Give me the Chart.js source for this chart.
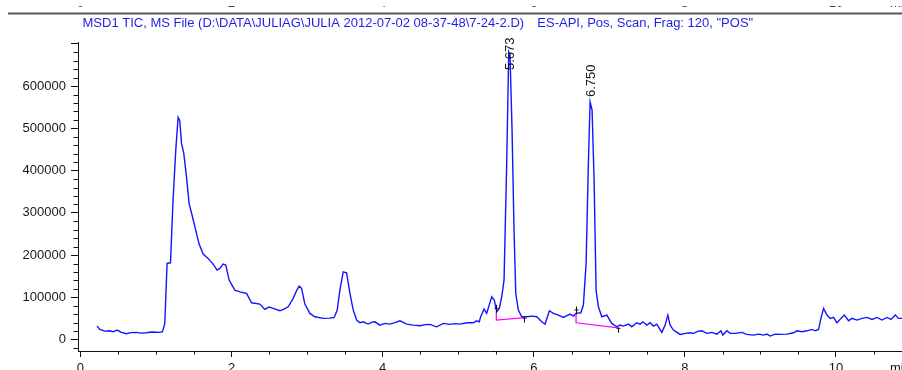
<!DOCTYPE html>
<html>
<head>
<meta charset="utf-8">
<script src="https://cdn.jsdelivr.net/npm/chart.js@4.4.1/dist/chart.umd.min.js"></script>
<style>
  html, body { margin: 0; padding: 0; background: #ffffff; }
  #wrap { position: relative; width: 902px; height: 370px; }
</style>
</head>
<body>
<div id="wrap"><canvas id="c" width="902" height="370"></canvas></div>
<script>
// ---------- data ----------
const titleLeft = 'MSD1 TIC, MS File (D:\\DATA\\JULIAG\\JULIA 2012-07-02 08-37-48\\7-24-2.D)';
const titleRight = 'ES-API, Pos, Scan, Frag: 120, "POS"';
const xTickValues = [0, 2, 4, 6, 8, 10];
const yTickValues = [0, 100000, 200000, 300000, 400000, 500000, 600000, 700000];
const xAxisUnit = 'min';

const retentionTime = [
  0.220, 0.256, 0.322, 0.388, 0.432, 0.485, 0.543, 0.609, 0.666, 0.742,
  0.799, 0.874, 0.944, 1.050, 1.086, 1.117, 1.147, 1.192, 1.226, 1.262,
  1.293, 1.315, 1.338, 1.368, 1.404, 1.438, 1.483, 1.536, 1.571, 1.624,
  1.690, 1.756, 1.809, 1.845, 1.889, 1.924, 1.968, 2.044, 2.110, 2.163,
  2.199, 2.265, 2.375, 2.441, 2.494, 2.551, 2.640, 2.693, 2.750, 2.816,
  2.865, 2.895, 2.927, 2.971, 3.037, 3.103, 3.213, 3.302, 3.359, 3.399,
  3.434, 3.478, 3.523, 3.567, 3.611, 3.656, 3.699, 3.743, 3.809, 3.858,
  3.898, 3.964, 4.030, 4.097, 4.163, 4.229, 4.318, 4.405, 4.494, 4.560,
  4.626, 4.715, 4.803, 4.891, 4.958, 5.024, 5.113, 5.200, 5.245, 5.279,
  5.298, 5.342, 5.377, 5.444, 5.478, 5.510, 5.544, 5.576, 5.607, 5.642,
  5.669, 5.686, 5.713, 5.739, 5.762, 5.796, 5.841, 5.907, 5.974, 6.040,
  6.106, 6.150, 6.207, 6.260, 6.326, 6.392, 6.481, 6.525, 6.560, 6.623,
  6.657, 6.693, 6.723, 6.746, 6.772, 6.799, 6.825, 6.856, 6.901, 6.967,
  7.033, 7.099, 7.143, 7.187, 7.253, 7.298, 7.364, 7.408, 7.444, 7.497,
  7.540, 7.584, 7.629, 7.695, 7.739, 7.775, 7.805, 7.849, 7.938, 8.004,
  8.070, 8.114, 8.180, 8.225, 8.291, 8.358, 8.424, 8.477, 8.503, 8.556,
  8.600, 8.666, 8.755, 8.821, 8.909, 8.975, 9.041, 9.086, 9.130, 9.196,
  9.262, 9.351, 9.438, 9.483, 9.550, 9.616, 9.682, 9.726, 9.770, 9.801,
  9.836, 9.881, 9.925, 9.968, 10.013, 10.066, 10.110, 10.167, 10.212, 10.278,
  10.344, 10.411, 10.477, 10.543, 10.609, 10.675, 10.728, 10.785, 10.829, 10.874
];
const ticSignal = [
  32000, 24000, 20000, 21000, 18500, 22500, 17000, 14000, 16600, 17000,
  15400, 16100, 17800, 17000, 18500, 38300, 180400, 181800, 330200, 448500,
  525900, 517900, 464400, 440700, 385300, 322400, 290700, 251400, 226000, 202400,
  192200, 178700, 164500, 168500, 178700, 176300, 140800, 117200, 113100, 110800,
  109400, 87100, 84000, 71500, 76900, 73900, 68200, 72200, 77600, 97500,
  117200, 126600, 121200, 84000, 62000, 54000, 50200, 50900, 52500, 69800,
  117200, 160500, 158100, 109400, 69800, 46200, 39800, 42100, 36700, 41400,
  42100, 34300, 38300, 36700, 40200, 44500, 36700, 34300, 32700, 35500,
  36000, 30300, 38300, 36000, 37900, 36700, 39800, 39800, 44500, 42100,
  54000, 72200, 62000, 101300, 93500, 65800, 73900, 101300, 140800, 417100,
  681200, 673400, 495900, 259200, 109400, 69800, 54000, 54000, 55600, 54000,
  42100, 36700, 68200, 62000, 58000, 52500, 60400, 55600, 62000, 63400,
  81700, 180400, 417100, 562900, 543200, 377500, 117200, 77600, 54000, 58000,
  38300, 30300, 34300, 32000, 36700, 30300, 39800, 36700, 42100, 34300,
  39800, 32000, 36700, 17000, 34300, 58000, 34300, 22500, 12300, 14700,
  16100, 14700, 20100, 20800, 14700, 17000, 13000, 20800, 10700, 20800,
  14700, 14700, 17000, 12300, 10700, 13000, 10700, 13000, 8300, 13000,
  12300, 13000, 16100, 20800, 18500, 20800, 24100, 20800, 24100, 50200,
  73900, 58000, 50200, 52500, 39800, 50200, 58000, 44500, 50200, 46200,
  50200, 52500, 47800, 52500, 46200, 52500, 47800, 58000, 50200, 50200
];

// integrated peaks
const peakTime = [5.673, 6.750];
const peakLabel = ['5.673', '6.750'];
const peakApex = [681200, 562900];
const baseStartTime = [5.505, 6.560];
const baseStartSignal = [65800, 62000];
const baseStartLevel = [46200, 39800];
const baseEndTime = [5.876, 7.121];
const baseEndLevel = [52100, 27900];

// ---------- chart ----------
const FONT = '"Liberation Sans", Arial, sans-serif';
const traceData = retentionTime.map((t, i) => ({ x: t, y: ticSignal[i] }));
const baselineSets = baseStartTime.map((t, i) => ({
  data: [
    { x: t, y: baseStartSignal[i] },
    { x: t, y: baseStartLevel[i] },
    { x: baseEndTime[i], y: baseEndLevel[i] }
  ],
  borderColor: 'rgb(255, 0, 255)',
  borderWidth: 1.3,
  pointRadius: 0,
  tension: 0,
  order: 0
}));

const decor = {
  id: 'decor',
  afterDatasetsDraw(chart) {
    const ctx = chart.ctx;
    const xs = chart.scales.x, ys = chart.scales.y;
    ctx.save();
    // integration event markers
    ctx.strokeStyle = '#111';
    ctx.lineWidth = 1;
    baseStartTime.forEach((t, i) => {
      const px = Math.round(xs.getPixelForValue(t)) + 0.5;
      const py = ys.getPixelForValue(baseStartSignal[i]);
      ctx.beginPath();
      ctx.moveTo(px, py + 1); ctx.lineTo(px, py - 7);
      ctx.moveTo(px - 2, py - 3.5); ctx.lineTo(px + 2, py - 3.5);
      ctx.stroke();
    });
    baseEndTime.forEach((t, i) => {
      const px = Math.round(xs.getPixelForValue(t)) + 0.5;
      const py = ys.getPixelForValue(baseEndLevel[i]);
      ctx.beginPath();
      ctx.moveTo(px, py); ctx.lineTo(px, py + 5);
      ctx.moveTo(px - 2, py + 0.5); ctx.lineTo(px + 2, py + 0.5);
      ctx.stroke();
    });
    // retention time labels (rotated)
    ctx.fillStyle = '#111';
    ctx.font = '13px ' + FONT;
    ctx.textAlign = 'left';
    ctx.textBaseline = 'alphabetic';
    peakTime.forEach((t, i) => {
      const px = xs.getPixelForValue(t);
      const py = Math.max(ys.getPixelForValue(peakApex[i]) - 4.7, 70);
      ctx.save();
      ctx.translate(px + 4.6, py);
      ctx.rotate(-Math.PI / 2);
      ctx.fillText(peakLabel[i], 0, 0);
      ctx.restore();
    });
    ctx.restore();
  },
  afterDraw(chart) {
    const ctx = chart.ctx;
    const xs = chart.scales.x, ys = chart.scales.y;
    const area = chart.chartArea;
    ctx.save();
    // minor ticks, y axis
    ctx.strokeStyle = '#111';
    ctx.lineWidth = 1;
    ctx.beginPath();
    for (let v = -20000; v <= 700000; v += 20000) {
      if (v % 100000 === 0) continue;
      const py = Math.round(ys.getPixelForValue(v)) + 0.5;
      ctx.moveTo(area.left - 4.5, py); ctx.lineTo(area.left, py);
    }
    // minor ticks, x axis
    for (let t = 0.5; t <= 10.8; t += 0.5) {
      if (Math.abs(t / 2 - Math.round(t / 2)) < 1e-6) continue;
      const px = Math.round(xs.getPixelForValue(t)) + 0.5;
      ctx.moveTo(px, area.bottom); ctx.lineTo(px, area.bottom + 3.5);
    }
    ctx.stroke();

    // frame line at top
    ctx.fillStyle = '#555';
    ctx.fillRect(8, 12.5, 894, 2);

    // remains of the tick labels of the panel above (clipped)
    ctx.save();
    ctx.beginPath();
    ctx.rect(0, 6, 902, 1.5);
    ctx.clip();
    ctx.fillStyle = '#444';
    ctx.font = '13px ' + FONT;
    ctx.textBaseline = 'alphabetic';
    ctx.textAlign = 'center';
    xTickValues.forEach(v => ctx.fillText(String(v), xs.getPixelForValue(v), 7.3));
    ctx.textAlign = 'left';
    ctx.fillText(xAxisUnit, 890, 7.3);
    ctx.restore();

    // title
    ctx.fillStyle = 'rgb(30, 30, 235)';
    ctx.font = '13px ' + FONT;
    ctx.textAlign = 'left';
    ctx.textBaseline = 'alphabetic';
    ctx.fillText(titleLeft, 82.5, 26.6);
    ctx.fillText(titleRight, 537.3, 26.6);

    // axis unit
    ctx.fillStyle = '#111';
    ctx.fillText(xAxisUnit, 890, 372);
    ctx.restore();
  }
};

new Chart(document.getElementById('c'), {
  type: 'line',
  data: {
    datasets: [
      {
        data: traceData,
        borderColor: 'rgb(20, 20, 255)',
        borderWidth: 1.4,
        pointRadius: 0,
        tension: 0,
        order: 1
      },
      ...baselineSets
    ]
  },
  options: {
    responsive: false,
    animation: false,
    events: [],
    layout: { padding: { top: 42, left: 0, right: 0, bottom: 0 } },
    plugins: { legend: { display: false }, tooltip: { enabled: false }, title: { display: false } },
    scales: {
      x: {
        type: 'linear',
        min: -0.032,
        max: 10.874,
        afterBuildTicks: s => { s.ticks = xTickValues.map(v => ({ value: v })); },
        afterFit: s => { s.height = 19; },
        grid: { display: true, drawOnChartArea: false, drawTicks: true, tickLength: 6, tickColor: '#111', tickWidth: 1 },
        border: { display: true, color: '#111', width: 1 },
        ticks: {
          autoSkip: false, maxRotation: 0, padding: 4,
          color: '#1a1a1a', font: { family: FONT, size: 13 },
          callback: v => String(v)
        }
      },
      y: {
        type: 'linear',
        min: -27000,
        max: 704400,
        afterBuildTicks: s => { s.ticks = yTickValues.map(v => ({ value: v })); },
        afterFit: s => { s.width = 78; },
        grid: { display: true, drawOnChartArea: false, drawTicks: true, tickLength: 7, tickColor: '#111', tickWidth: 1 },
        border: { display: true, color: '#111', width: 1 },
        ticks: {
          autoSkip: false, padding: 5,
          color: '#1a1a1a', font: { family: FONT, size: 13 },
          callback: v => (v >= 700000 ? '' : String(v))
        }
      }
    }
  },
  plugins: [decor]
});
</script>
</body>
</html>
